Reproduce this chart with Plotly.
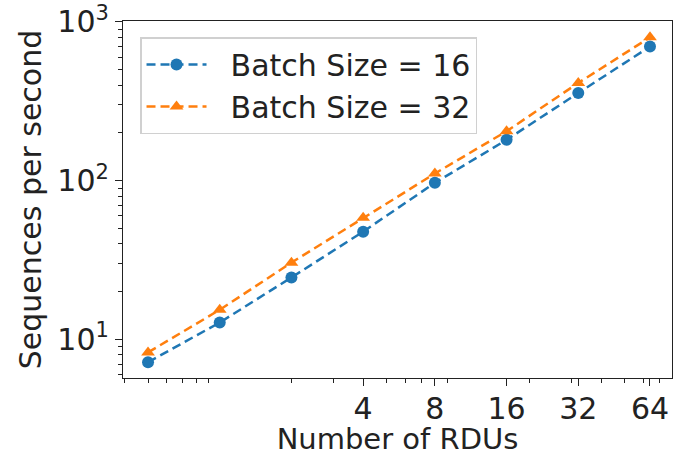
import plotly.graph_objects as go
import numpy as np

rdus = [0.5, 1, 2, 4, 8, 16, 32, 64]
bs16 = [7.2, 12.8, 24.6, 47.8, 97, 181, 357, 700]
bs32 = [8.3, 15.4, 30.5, 58.5, 111, 205, 413, 800]
series_names = ["Batch Size = 16", "Batch Size = 32"]
x_tick_vals = [4, 8, 16, 32, 64]
x_tick_text = ["4", "8", "16", "32", "64"]
y_tick_vals = [10, 100, 1000]
y_tick_text = ["10<sup>1</sup>", "10<sup>2</sup>", "10<sup>3</sup>"]

x_minor = [0.4, 0.5, 0.6, 0.7, 0.8, 0.9, 2, 3, 5, 6, 7, 9, 20, 30, 40, 50, 60, 70]
y_minor = [6, 7, 8, 9, 20, 30, 40, 50, 60, 70, 80, 90,
           200, 300, 400, 500, 600, 700, 800, 900]

FONT = "DejaVu Sans"
TXT = "#222222"
FS = 30
PAD = "\u00a0\u00a0"

fig = go.Figure()
fig.add_trace(go.Scatter(
    x=rdus, y=bs16, name=PAD + series_names[0], mode="lines+markers",
    line=dict(color="#1f77b4", width=2.5, dash="9px,5px"),
    marker=dict(symbol="circle", size=12, color="#1f77b4"),
))
fig.add_trace(go.Scatter(
    x=rdus, y=bs32, name=PAD + series_names[1], mode="lines+markers",
    line=dict(color="#ff7f0e", width=2.5, dash="9px,5px"),
    marker=dict(symbol="triangle-up", size=12, color="#ff7f0e"),
))

fig.update_layout(
    width=674, height=456,
    margin=dict(l=123, r=2, t=21, b=78, autoexpand=False),
    paper_bgcolor="white", plot_bgcolor="white",
    font=dict(family=FONT, size=FS, color=TXT),
    showlegend=True,
    legend=dict(
        x=0.031, y=0.955, xanchor="left", yanchor="top",
        bgcolor="rgba(255,255,255,0.8)", bordercolor="#d0d0d0", borderwidth=1.5,
        font=dict(family=FONT, size=FS, color=TXT),
        itemwidth=60, tracegroupgap=0,
    ),
    xaxis=dict(
        type="log", automargin=False,
        range=[np.log10(0.5) - 0.349 * np.log10(2), np.log10(64) + 0.307 * np.log10(2)],
        tickmode="array", tickvals=x_tick_vals, ticktext=x_tick_text,
        ticks="outside", ticklen=7, tickwidth=1.2, tickcolor=TXT,
        ticklabelstandoff=-3,
        showline=True, linecolor=TXT, linewidth=1.2, mirror=True,
        showgrid=False, zeroline=False,
        tickfont=dict(family=FONT, size=FS, color=TXT),
        minor=dict(tickmode="array", tickvals=x_minor, ticks="outside",
                   ticklen=4, tickwidth=1, tickcolor=TXT, showgrid=False),
        title=dict(text="Number of RDUs", font=dict(family=FONT, size=29, color=TXT),
                   standoff=6),
    ),
    yaxis=dict(
        type="log", automargin=False,
        range=[0.758, 3.006],
        tickmode="array", tickvals=y_tick_vals, ticktext=y_tick_text,
        ticks="outside", ticklen=7, tickwidth=1.2, tickcolor=TXT,
        showline=True, linecolor=TXT, linewidth=1.2, mirror=True,
        showgrid=False, zeroline=False,
        tickfont=dict(family=FONT, size=FS, color=TXT),
        minor=dict(tickmode="array", tickvals=y_minor, ticks="outside",
                   ticklen=4, tickwidth=1, tickcolor=TXT, showgrid=False),
        title=dict(text="Sequences per second", font=dict(family=FONT, size=FS, color=TXT),
                   standoff=6),
    ),
)

fig.write_html("out.html", config={"displayModeBar": False},
               post_script="document.body.style.margin='0';")
